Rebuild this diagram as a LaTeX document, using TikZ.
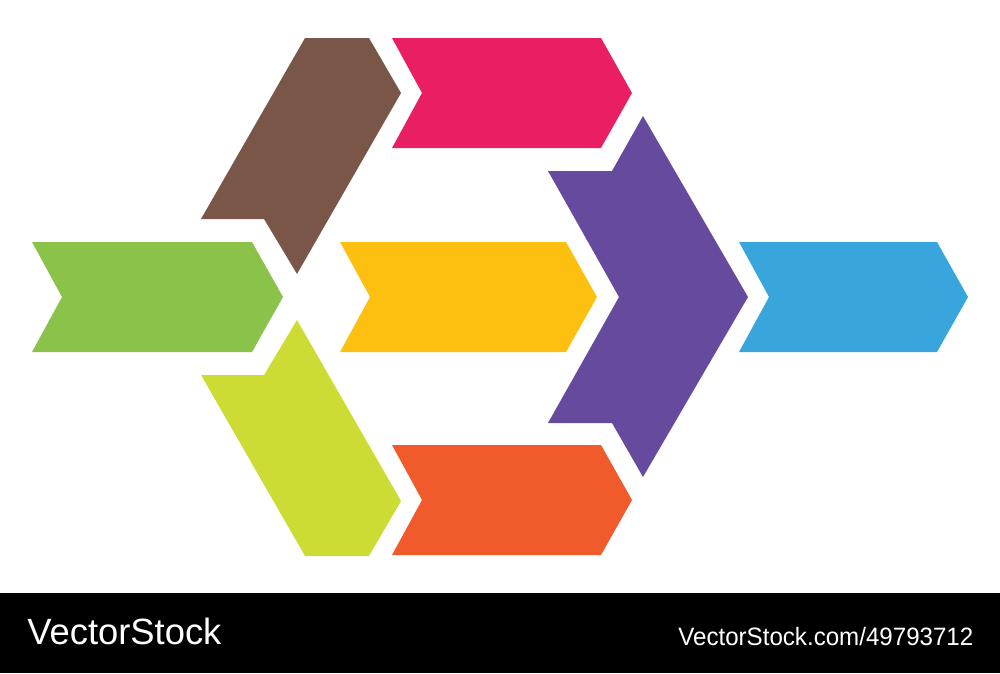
\documentclass[tikz,border=0pt]{standalone}
\usepackage{fontspec}
\setmainfont{Liberation Sans}
\definecolor{cbrown}{HTML}{7A5649}
\definecolor{cpink}{HTML}{EA1E63}
\definecolor{cpurple}{HTML}{654A9E}
\definecolor{cgreen}{HTML}{8BC34A}
\definecolor{cyellow}{HTML}{FDC010}
\definecolor{cblue}{HTML}{38A5DC}
\definecolor{clime}{HTML}{CDDC35}
\definecolor{corange}{HTML}{F15A2B}
\begin{document}
\begin{tikzpicture}[x=0.02cm,y=-0.02cm,
  piece/.style={draw=none},
  footertext/.style={text=white,inner sep=0pt,anchor=base west}]
\useasboundingbox (0,0) rectangle (1000,673);
\fill[white] (0,0) rectangle (1000,673);
% green
\fill[piece,cgreen] (32,242) -- (252,242) -- (283,297) -- (252,352) -- (32,352) -- (62,297) -- cycle;
% yellow
\fill[piece,cyellow] (340,242) -- (566,242) -- (597,297) -- (566,352) -- (340,352) -- (370,297) -- cycle;
% blue
\fill[piece,cblue] (739,242) -- (937,242) -- (968,297) -- (937,352) -- (739,352) -- (769,297) -- cycle;
% pink
\fill[piece,cpink] (392,38) -- (601,38) -- (632,93) -- (601,148) -- (392,148) -- (422,93) -- cycle;
% orange
\fill[piece,corange] (392,445) -- (601,445) -- (632,500) -- (601,555) -- (392,555) -- (422,500) -- cycle;
% brown
\fill[piece,cbrown] (305,38) -- (369,38) -- (401,93) -- (297,274) -- (264,219) -- (201,219) -- cycle;
% lime
\fill[piece,clime] (297,320) -- (401,501) -- (369,556) -- (305,556) -- (201,375) -- (264,375) -- cycle;
% purple
\fill[piece,cpurple] (643,116) -- (748,297) -- (643,477) -- (612,423) -- (548,423) -- (619,297) -- (548,171) -- (612,171) -- cycle;
% footer
\fill[black] (0,593) rectangle (1000,673);
\node[footertext,font=\fontsize{20.8}{24}\selectfont,xscale=0.995] (brand) at (27,644) {VectorStock};
\node[footertext,font=\fontsize{14.3}{17}\selectfont,xscale=0.96] (url) at (678,645) {VectorStock.com/49793712};
\end{tikzpicture}
\end{document}
